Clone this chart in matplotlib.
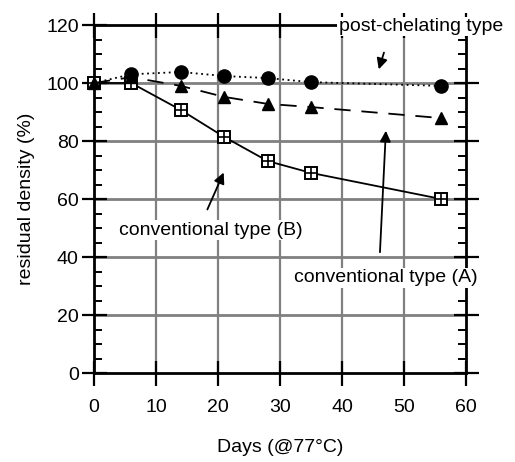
#!/usr/bin/env python3
"""
residual density vs days, three dopant types
"""

import matplotlib
matplotlib.use("Agg")
import matplotlib.pyplot as plt

# data
days = [0, 6, 14, 21, 28, 35, 56]
post_chelating = [100, 103, 103.8, 102.4, 101.7, 100.3, 99]
conv_a = [100, 102, 99, 95.2, 92.8, 91.7, 87.9]
conv_b = [100, 100, 90.7, 81.4, 73.1, 69, 60]

x_ticks = [0, 10, 20, 30, 40, 50, 60]
y_ticks = [0, 20, 40, 60, 80, 100, 120]

FS = 14

plt.rcParams['font.family'] = ['Liberation Sans', 'DejaVu Sans']

fig = plt.figure(figsize=(5.15, 4.62), dpi=100)
ax = fig.add_axes([94 / 515, 1 - 373 / 462, 372 / 515, 348 / 462])

# grid
for y in y_ticks[1:-1]:
    ax.axhline(y, color='#808080', lw=2, zorder=1)
for x in x_ticks[1:-1]:
    ax.axvline(x, color='#808080', lw=1.6, zorder=1)

# series (squares lowest, circles on top)
ax.plot(days, conv_b, color='black', lw=1.3, ls='-',
        marker='s', ms=8.5, mfc='white', mec='black', mew=1.4, zorder=4,
        clip_on=False)
ax.plot(days, conv_b, ls='none', marker='+', ms=8.5, mec='black', mew=1.2,
        zorder=4.1, clip_on=False)
ax.plot(days, conv_a, color='black', lw=1.3, ls=(0, (9, 6)),
        marker='^', ms=9, mfc='black', mec='black', zorder=5, clip_on=False)
ax.plot(days, post_chelating, color='black', lw=1.3, ls=(0, (1, 2)),
        marker='o', ms=9.5, mfc='black', mec='black', zorder=6,
        markevery=list(range(1, len(days))), clip_on=False)

ax.set_xlim(0, 60)
ax.set_ylim(0, 120)
ax.set_xticks(x_ticks)
ax.set_yticks(y_ticks)
ax.set_yticks(range(0, 121, 5), minor=True)
ax.tick_params(axis='both', which='major', direction='inout', length=18,
               width=1.6, labelsize=FS, top=True, right=True, color='black')
ax.tick_params(axis='y', which='minor', direction='in', length=6,
               width=1.4, left=True, right=True)
ax.tick_params(axis='x', which='major', pad=10)
ax.tick_params(axis='y', which='major', pad=2)
for s in ax.spines.values():
    s.set_linewidth(2)

ax.set_xlabel('Days (@77°C)', fontsize=FS, labelpad=16)
ax.set_ylabel('residual density (%)', fontsize=FS, labelpad=8)

# annotations
arrow = dict(arrowstyle='-|>', color='black', lw=1.3, mutation_scale=16)

ax.text(52.7, 119.5, 'post-chelating type', fontsize=FS, ha='center',
        va='center', zorder=10, clip_on=False,
        bbox=dict(facecolor='white', edgecolor='none', pad=1))
ax.annotate('', xy=(45.8, 103.8), xytext=(46.9, 111.4),
            arrowprops=arrow, zorder=10)

ax.text(18.9, 49.3, 'conventional type (B)', fontsize=FS, ha='center',
        va='center', zorder=10,
        bbox=dict(facecolor='white', edgecolor='none', pad=1))
ax.annotate('', xy=(21.1, 70), xytext=(18.1, 55.5),
            arrowprops=arrow, zorder=10)

ax.text(47.1, 32.8, 'conventional type (A)', fontsize=FS, ha='center',
        va='center', zorder=10, clip_on=False,
        bbox=dict(facecolor='white', edgecolor='none', pad=1))
ax.annotate('', xy=(47.1, 84.5), xytext=(46.1, 40.7),
            arrowprops=arrow, zorder=10)

fig.savefig('out.png', dpi=100, facecolor='white')
